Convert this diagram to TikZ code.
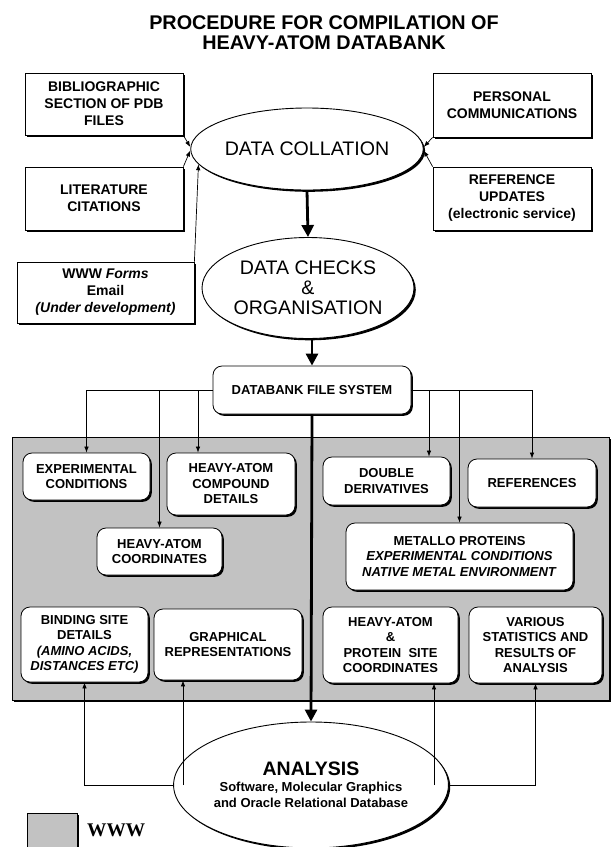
\documentclass[tikz,border=0pt]{standalone}
\usepackage{fontspec}
\setmainfont{Liberation Sans}
\newfontfamily\wwwfont{Liberation Serif}
\usetikzlibrary{arrows.meta,shadows,shapes.geometric,calc}
\definecolor{panelgray}{RGB}{194,194,194}
\begin{document}
\begin{tikzpicture}[x=1pt,y=-1pt,
  shad/.style={drop shadow={shadow xshift=1.8pt,shadow yshift=-1.8pt,opacity=1,fill=black}},
  box/.style={draw,fill=white,line width=0.8pt,inner sep=0pt,align=center,shad,
    font=\bfseries\fontsize{14}{17}\selectfont},
  rbox/.style={box,rounded corners=9pt,font=\bfseries\fontsize{13}{15.5}\selectfont},
  oval/.style={ellipse,draw,fill=white,line width=0.9pt,inner sep=0pt,align=center,shad,
    font=\fontsize{19.6}{20}\selectfont},
  thinarr/.style={line width=0.7pt,-{Latex[length=6pt,width=4.5pt]}},
  thickarr/.style={line width=2.8pt,-{Triangle[length=12pt,width=12pt]}}]
\useasboundingbox (0,0) rectangle (612,847);

% title
\node[align=center,font=\bfseries\fontsize{19.8}{20}\selectfont] (title) at (324,33)
  {PROCEDURE FOR COMPILATION OF\\HEAVY-ATOM DATABANK};

% sources
\node[box,minimum width=158pt,minimum height=62pt] (bib) at (104,104)
  {BIBLIOGRAPHIC\\SECTION OF PDB\\FILES};
\node[box,minimum width=158pt,minimum height=63pt] (lit) at (104,198.5)
  {LITERATURE\\CITATIONS};
\node[box,minimum width=177pt,minimum height=61pt] (www) at (105.5,292.5)
  {WWW \textit{Forms}\\Email\\\textit{(Under development)}};
\node[box,minimum width=158pt,minimum height=64pt] (pers) at (512,105)
  {PERSONAL\\COMMUNICATIONS};
\node[box,minimum width=158pt,minimum height=63pt] (ref) at (512,198.5)
  {REFERENCE\\UPDATES\\(electronic service)};

% ovals
\node[oval,minimum width=188pt,minimum height=82pt] (coll) at (307,149) {DATA COLLATION};
\node[oval,minimum width=212pt,minimum height=101pt] (checks) at (308,288)
  {DATA CHECKS\\\&\\ORGANISATION};

% databank file system
\node[rbox,minimum width=198pt,minimum height=48pt] (dfs) at (312,390) {DATABANK FILE SYSTEM};

% panel
\node[draw,fill=panelgray,line width=0.8pt,shad,inner sep=0pt,
  minimum width=597pt,minimum height=263pt] (panel) at (310.5,568.5) {};

% panel boxes
\node[rbox,minimum width=127pt,minimum height=47pt] (exp) at (86.5,476.5)
  {EXPERIMENTAL\\CONDITIONS};
\node[rbox,minimum width=128pt,minimum height=62pt] (hac) at (231,484)
  {HEAVY-ATOM\\COMPOUND\\DETAILS};
\node[rbox,minimum width=125pt,minimum height=47pt] (hacoord) at (159.5,551.5)
  {HEAVY-ATOM\\COORDINATES};
\node[rbox,minimum width=127pt,minimum height=48pt] (dbl) at (386.5,481)
  {DOUBLE\\DERIVATIVES};
\node[rbox,minimum width=128pt,minimum height=48pt] (refs) at (532,483)
  {REFERENCES};
\node[rbox,minimum width=227pt,minimum height=67pt] (metallo) at (459.5,556.5)
  {METALLO PROTEINS\\\textit{EXPERIMENTAL CONDITIONS}\\\textit{NATIVE METAL ENVIRONMENT}};
\node[rbox,minimum width=127pt,minimum height=75pt] (bind) at (84.5,644.5)
  {BINDING SITE\\DETAILS\\\textit{(AMINO ACIDS,}\\\textit{DISTANCES ETC)}};
\node[rbox,minimum width=148pt,minimum height=71pt] (graph) at (228,644.5)
  {GRAPHICAL\\REPRESENTATIONS};
\node[rbox,minimum width=135pt,minimum height=76pt] (hapc) at (390.5,645)
  {HEAVY-ATOM\\\&\\PROTEIN\ \ SITE\\COORDINATES};
\node[rbox,minimum width=133pt,minimum height=76pt] (various) at (535.5,645)
  {VARIOUS\\STATISTICS AND\\RESULTS OF\\ANALYSIS};

% analysis
\node[oval,minimum width=220pt,minimum height=126pt,font=\bfseries\fontsize{13}{16}\selectfont]
  (analysis) at (311,785)
  {{\fontsize{19.5}{19.5}\selectfont ANALYSIS}\\Software, Molecular Graphics\\and Oracle Relational Database};

% legend
\node[draw,fill=panelgray,line width=0.8pt,shad,inner sep=0pt,
  minimum width=50pt,minimum height=40pt] (leg) at (52,833) {};
\node[anchor=west,inner sep=0pt,font=\wwwfont\bfseries\fontsize{19.3}{20}\selectfont]
  (legt) at (87,830) {WWW};

% arrows into data collation
\draw[thinarr] (bib.south east) -- ([yshift=2pt]coll.west);
\draw[thinarr] (lit.north east) -- ([yshift=-1.5pt]coll.west);
\draw[thinarr] (www.north east) -- (coll.188);
\draw[thinarr] (pers.south west) -- ([yshift=2pt]coll.east);
\draw[thinarr] (ref.north west) -- ([yshift=-1.5pt]coll.east);

% main flow
\draw[thickarr] (coll.south) -- (checks.north);
\draw[thickarr] (checks.south -| dfs.north) -- (dfs.north);
\draw[thickarr] (dfs.south) -- (analysis.north);

% branches from databank file system
\coordinate (hacin) at ([xshift=-33pt]hac.north);
\coordinate (dblin) at ([xshift=42.5pt]dbl.north);
\draw[thinarr] (dfs.west) -| (exp.north);
\draw[thinarr] (dfs.west) -| (hacoord.north);
\draw[thinarr] (dfs.west) -| (hacin);
\draw[thinarr] (dfs.east) -| (dblin);
\draw[thinarr] (dfs.east) -| (metallo.north);
\draw[thinarr] (dfs.east) -| (refs.north);

% arrows from analysis
\coordinate (graphin) at ([xshift=-45pt]graph.south);
\coordinate (hapcin) at ([xshift=43.5pt]hapc.south);
\draw[thinarr] (analysis.west) -| (bind.south);
\draw[thinarr] (analysis.west -| graphin) -- (graphin);
\draw[thinarr] (analysis.east) -| (various.south);
\draw[thinarr] (analysis.east -| hapcin) -- (hapcin);
\end{tikzpicture}
\end{document}
